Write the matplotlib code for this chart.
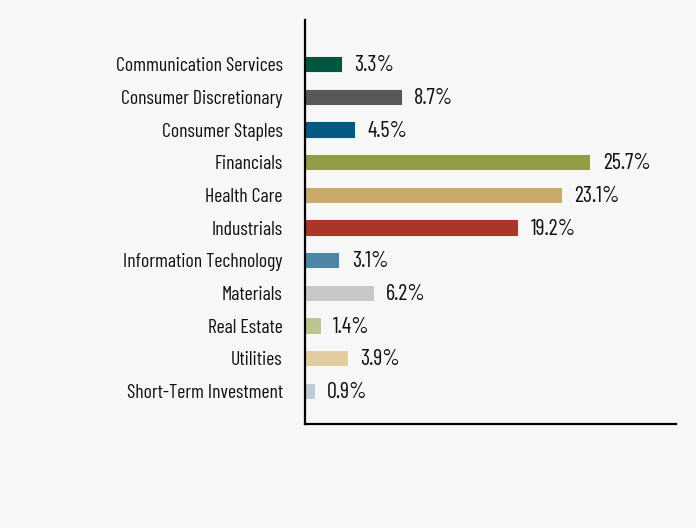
import matplotlib
matplotlib.use("Agg")
import matplotlib.pyplot as plt

sectors = [
    "Communication Services", "Consumer Discretionary", "Consumer Staples",
    "Financials", "Health Care", "Industrials", "Information Technology",
    "Materials", "Real Estate", "Utilities", "Short-Term Investment",
]
weights = [3.3, 8.7, 4.5, 25.7, 23.1, 19.2, 3.1, 6.2, 1.4, 3.9, 0.9]
colors = [
    "#00573f", "#58585a", "#005a84", "#929d45", "#c9aa6a", "#aa3528",
    "#4e87a5", "#c8c8c9", "#bcc590", "#e2cda3", "#c0cad9",
]

plt.rcParams["font.family"] = ["Barlow Condensed", "DejaVu Sans"]

fig = plt.figure(figsize=(6.96, 5.28), dpi=100, facecolor="#f7f7f7")
ax = fig.add_axes([0.4382, 0.197, 0.533, 0.765])
ax.set_facecolor("#f7f7f7")

pos = list(range(len(sectors)))
ax.barh(pos, weights, height=0.5, color=colors, edgecolor="white", linewidth=0.6)

# value labels just right of each bar
for y, v in zip(pos, weights):
    ax.text(v + 1.1, y + 0.05, f"{v:.1f}%", va="center", ha="left", fontsize=16,
            color="#111111")

ax.set_yticks(pos)
ax.set_yticklabels(sectors, fontsize=14.2, color="#111111")
ax.tick_params(axis="y", length=0, pad=16)
ax.set_xticks([])
ax.set_xlim(0, 33.4)
ax.set_ylim(11.01, -1.35)

for s in ["top", "right"]:
    ax.spines[s].set_visible(False)
for s in ["left", "bottom"]:
    ax.spines[s].set_linewidth(1.6)
    ax.spines[s].set_color("black")

fig.savefig("out.png", dpi=100, facecolor=fig.get_facecolor())
